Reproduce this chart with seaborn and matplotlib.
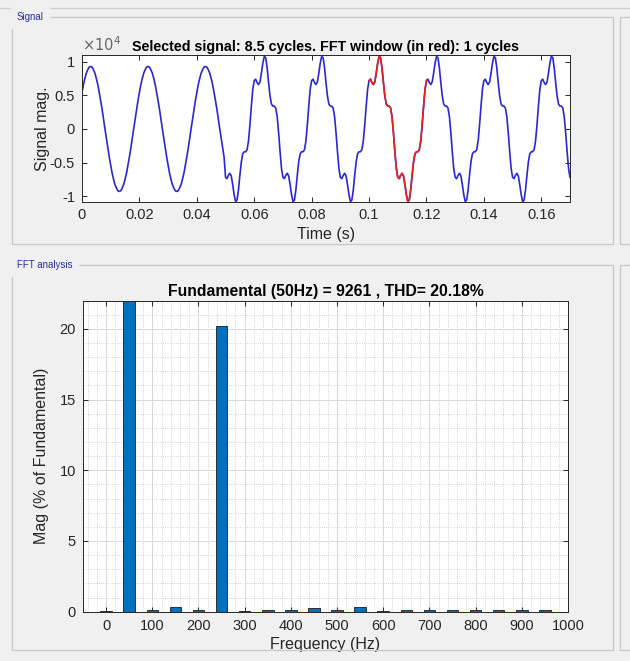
import numpy as np
import pandas as pd
import matplotlib
matplotlib.use("Agg")
import matplotlib.pyplot as plt
import seaborn as sns
from matplotlib.patches import Rectangle
from matplotlib.ticker import FuncFormatter, MultipleLocator, AutoMinorLocator

# one 20 ms period of the signal, read every 0.5 ms (units of 1e4)
clean_cycle = [0.54, 0.66, 0.75, 0.83, 0.88, 0.92, 0.93, 0.92, 0.88, 0.83,
               0.75, 0.66, 0.54, 0.42, 0.29, 0.14, 0.00, -0.14, -0.29, -0.42,
               -0.54, -0.66, -0.75, -0.83, -0.88, -0.92, -0.93, -0.92, -0.88, -0.83,
               -0.75, -0.66, -0.54, -0.42, -0.29, -0.14, 0.00, 0.14, 0.29, 0.42]
distorted_cycle = [0.72, 0.74, 0.69, 0.66, 0.70, 0.83, 0.98, 1.08, 1.06, 0.91,
                   0.69, 0.49, 0.37, 0.34, 0.34, 0.31, 0.18, -0.06, -0.34, -0.59,
                   -0.72, -0.74, -0.69, -0.66, -0.70, -0.83, -0.98, -1.08, -1.06, -0.91,
                   -0.69, -0.49, -0.37, -0.34, -0.34, -0.31, -0.18, 0.06, 0.34, 0.59]
sample_step = 0.0005
n_samples = 341                # 0 ... 0.17 s
distortion_start = 0.05
fft_window = (0.10, 0.12)

# FFT bars, % of fundamental
harmonic_freq = [0, 50, 100, 150, 200, 250, 300, 350, 400, 450,
                 500, 550, 600, 650, 700, 750, 800, 850, 900, 950]
harmonic_mag = [0.08, 100.0, 0.12, 0.35, 0.1, 20.18, 0.06, 0.12, 0.15, 0.25,
                0.1, 0.35, 0.06, 0.12, 0.12, 0.12, 0.12, 0.12, 0.12, 0.12]

plt.rcParams['font.family'] = ['Liberation Sans', 'DejaVu Sans']
plt.rcParams['axes.unicode_minus'] = False

idx = np.arange(n_samples)
t = idx * sample_step
sig = np.where(t < distortion_start - 1e-9,
               np.array(clean_cycle)[idx % 40],
               np.array(distorted_cycle)[idx % 40]) * 1e4
win = (t >= fft_window[0] - 1e-9) & (t <= fft_window[1] + 1e-9)

bg = '#f0f0f0'
fig = plt.figure(figsize=(6.3, 6.61), dpi=100, facecolor=bg)

# panel frames
def panel(x0, y0, x1, y1, label=None):
    fig.patches.append(Rectangle((x0 / 630, 1 - y1 / 661), (x1 - x0) / 630, (y1 - y0) / 661,
                                 transform=fig.transFigure, fill=False,
                                 edgecolor='#c8c8c8', linewidth=0.9))
    if label:
        fig.text((x0 + 5) / 630, 1 - y0 / 661, label, fontsize=7, color='#2b2ba8',
                 va='center', ha='left', backgroundcolor=bg)

fig.add_artist(plt.Line2D([0, 1], [1 - 8 / 661] * 2, transform=fig.transFigure,
                          color='#d0d0d0', linewidth=1))
panel(12, 17, 613, 244, 'Signal')
panel(12, 265, 613, 650, 'FFT analysis')
panel(620, 17, 660, 244)
panel(620, 265, 660, 650)

tick_kw = dict(direction='in', top=True, right=True, labelsize=10.5,
               colors='#262626', length=3.5, width=0.7, pad=5)
label_kw = dict(fontsize=11.5, color='#262626')

# signal plot
ax1 = fig.add_axes([82 / 630, 1 - 201.5 / 661, 488 / 630, 146.5 / 661])
sns.lineplot(x=t, y=sig, ax=ax1, color='#2828d0', linewidth=1.2, estimator=None, sort=False)
sns.lineplot(x=t[win], y=sig[win], ax=ax1, color='#e8201c', linewidth=1.2,
             estimator=None, sort=False)
ax1.set_xlim(0, 0.17)
ax1.set_ylim(-1.08e4, 1.10e4)
ax1.set_xticks(np.arange(0, 0.161, 0.02))
ax1.set_yticks([-1e4, -0.5e4, 0, 0.5e4, 1e4])
ax1.xaxis.set_major_formatter(FuncFormatter(lambda v, p: f'{v:g}'))
ax1.yaxis.set_major_formatter(FuncFormatter(lambda v, p: f'{v / 1e4:g}'))
ax1.tick_params(**tick_kw)
ax1.set_xlabel('Time (s)', labelpad=3, **label_kw)
ax1.set_ylabel('Signal mag.', labelpad=0, **label_kw)
ax1.set_title('Selected signal: 8.5 cycles. FFT window (in red): 1 cycles',
              fontsize=10.3, fontweight='bold', pad=3)
ax1.text(0, 1.01, r'$\times10^4$', transform=ax1.transAxes, fontsize=10.5,
         color='#666666', ha='left', va='bottom')
for s in ax1.spines.values():
    s.set_color('#262626')
    s.set_linewidth(0.7)

# FFT bar plot
ax2 = fig.add_axes([83 / 630, 1 - 611.7 / 661, 485 / 630, 311.2 / 661])
ax2.set_axisbelow(True)
df = pd.DataFrame({'freq': harmonic_freq, 'mag': harmonic_mag})
sns.barplot(data=df, x='freq', y='mag', ax=ax2, native_scale=True, width=0.5,
            color='#0072BD', saturation=1, edgecolor='#1a1a1a', linewidth=0.6)
ax2.set_xlim(-50, 1000)
ax2.set_ylim(0, 22)
ax2.xaxis.set_major_locator(MultipleLocator(100))
ax2.yaxis.set_major_locator(MultipleLocator(5))
ax2.xaxis.set_minor_locator(AutoMinorLocator(5))
ax2.yaxis.set_minor_locator(AutoMinorLocator(5))
ax2.grid(which='major', color='#d8d8d8', linewidth=0.7, linestyle='-')
ax2.grid(which='minor', color='#c4c4c4', linewidth=0.6, linestyle=':')
ax2.tick_params(which='major', **tick_kw)
ax2.tick_params(which='minor', length=0)
ax2.set_xlabel('Frequency (Hz)', labelpad=3, **label_kw)
ax2.set_ylabel('Mag (% of Fundamental)', labelpad=8, **label_kw)
ax2.set_title('Fundamental (50Hz) = 9261 , THD= 20.18%',
              fontsize=11.3, fontweight='bold', pad=3)
for s in ax2.spines.values():
    s.set_color('#262626')
    s.set_linewidth(0.7)

fig.savefig('out.png', dpi=100, facecolor=bg)
